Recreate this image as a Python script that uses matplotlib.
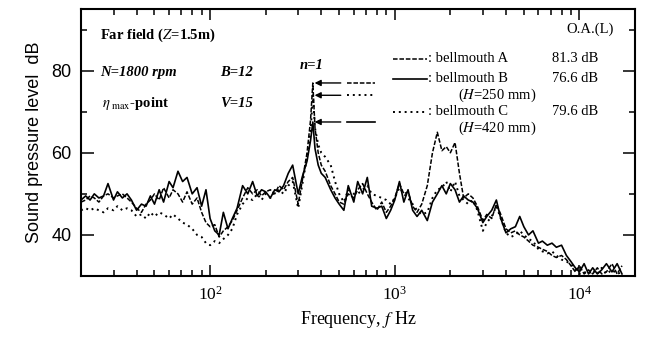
import matplotlib
matplotlib.use('Agg')
import matplotlib.pyplot as plt
from matplotlib.ticker import MultipleLocator, LogLocator, NullFormatter

plt.rcParams['font.family'] = 'Liberation Serif'
plt.rcParams['mathtext.fontset'] = 'stix'

# frequency grid, Hz
freqs = [20, 21.2, 22.4, 23.6, 25, 26.5, 28, 30, 31.5, 33.5,
         35.5, 37.5, 40, 42.5, 45, 47.5, 50, 53, 56, 60,
         63, 67, 71, 75, 80, 85, 90, 95, 100, 106,
         112, 118, 125, 132, 140, 150, 160, 170, 180, 190,
         200, 212, 224, 236, 250, 265, 280, 300, 315, 335,
         350, 360, 370, 385, 400, 420, 450, 475, 500, 530,
         560, 600, 630, 670, 710, 750, 800, 850, 900, 950,
         1000, 1060, 1120, 1180, 1250, 1320, 1400, 1500, 1600, 1700,
         1800, 1900, 2000, 2120, 2240, 2360, 2500, 2650, 2800, 3000,
         3150, 3350, 3550, 3750, 4000, 4250, 4500, 4750, 5000, 5300,
         5600, 6000, 6300, 6700, 7100, 7500, 8000, 8500, 9000, 9500,
         10000, 10600, 11200, 11800, 12500, 13200, 14000, 15000, 16000, 17000]

# bellmouth A (dashed)
spl_a = [48, 48.5, 49.5, 49, 48, 49.5, 50, 49, 49.5, 50,
         49, 48, 46.5, 45.5, 47.5, 48.5, 50, 48.5, 51.5, 49,
         51, 50, 48, 50.5, 47.5, 49, 45.5, 43, 42, 42.5,
         39.5, 41, 42, 43.5, 46, 49, 51.5, 50, 51, 49.5,
         50.5, 51, 50, 52, 51, 53, 54, 47.5, 53, 60,
         68, 77, 66, 60, 57, 55.5, 52, 50, 48, 47.5,
         50, 49, 51, 52.5, 50, 48, 46, 48, 45.5, 47,
         49, 52.5, 50, 50.5, 47, 45.5, 47.5, 52, 60, 65,
         60.5, 61.5, 60, 62.5, 55, 49, 50, 49, 47, 43.5,
         45, 44, 47.5, 45, 41.5, 40.5, 41, 40, 39.5, 38.5,
         37.5, 37, 36.5, 36, 35, 34.5, 35, 34, 32.5, 31,
         32.5, 30.5, 31.5, 30.5, 32, 30.5, 31, 33, 30.5, 32.5]

# bellmouth B (solid)
spl_b = [48.5, 49.5, 48.5, 50, 49, 49.5, 52.5, 48.5, 50.5, 49,
         50, 48.5, 46, 47.5, 47, 49.5, 47.5, 51, 48, 53,
         51.5, 55.5, 53, 54, 50, 51.5, 47, 51, 44, 41,
         40, 45.5, 41.5, 44, 46.5, 52, 50, 53, 49.5, 51,
         50.5, 49, 51, 50.5, 52, 55, 57, 50, 54, 58,
         63, 67.5, 61, 57, 55, 54, 51, 49, 47.5, 46,
         52, 48, 53, 50, 54, 47, 46.5, 47, 44, 46,
         48.5, 53, 48, 51, 46, 44.5, 46, 43.5, 48, 50,
         52, 50, 52.5, 51, 48, 49.5, 48.5, 48, 46.5, 43,
         44.5, 46, 48.5, 44, 40.5, 41.5, 42, 44.5, 42, 40,
         41, 38, 38.5, 37.5, 38, 37, 37.5, 35, 33.5, 32,
         31, 33, 30.5, 32, 30.5, 31.5, 33, 31, 33, 30.5]

# bellmouth C (dotted)
spl_c = [46, 46.5, 46, 46.5, 46, 45.5, 46.5, 46, 47, 46,
         46.5, 46, 44.5, 45, 44, 45.5, 44.5, 45.5, 45, 44,
         45, 44, 43, 42.5, 41.5, 40, 39.5, 38, 37.5, 38.5,
         38, 39, 40, 41.5, 45, 47.5, 49, 48.5, 50, 48.5,
         50, 49, 50.5, 51, 50, 52, 53, 46.5, 52, 59,
         65, 74, 66, 62, 60, 59, 57, 53, 50, 48,
         51, 50, 50, 51, 52, 50, 49.5, 49, 48.5, 47.5,
         49, 51.5, 50, 49, 47.5, 46, 45, 45.5, 49, 51,
         51.5, 53, 50.5, 53, 49.5, 48.5, 47.5, 48.5, 46, 41,
         43, 44.5, 47, 44, 40.5, 39.5, 40, 41, 40, 39,
         38.5, 36.5, 36, 35.5, 36, 35, 34, 33.5, 33, 31.5,
         30.5, 31, 30.5, 31.5, 30.5, 32, 30.5, 31.5, 30.5, 31]

names = ['bellmouth A', 'bellmouth B', 'bellmouth C']
overall = ['81.3 dB', '76.6 dB', '79.6 dB']
notes = [None, '($H$=250 mm)', '($H$=420 mm)']
styles = [(0, (3, 1.2)), '-', (0, (1, 2))]
widths = [1.1, 1.2, 1.4]
series = [spl_a, spl_b, spl_c]

fig = plt.figure(figsize=(6.47, 3.38), dpi=100)
ax = fig.add_axes([0.1252, 0.1834, 0.8563, 0.7899])

for s, ls, lw in zip(series, styles, widths):
    ax.plot(freqs, s, color='black', linestyle=ls, linewidth=lw)

ax.set_xscale('log')
ax.set_xlim(20, 20000)
ax.set_ylim(30, 95)

ax.yaxis.set_major_locator(MultipleLocator(20))
ax.yaxis.set_minor_locator(MultipleLocator(10))
ax.xaxis.set_major_locator(LogLocator(base=10, numticks=10))
ax.xaxis.set_minor_locator(LogLocator(base=10, subs=range(2, 10), numticks=20))
ax.xaxis.set_minor_formatter(NullFormatter())

ax.tick_params(which='both', direction='in', top=True, right=True, width=1.1)
ax.tick_params(axis='y', which='major', length=9, pad=7, labelsize=13)
ax.tick_params(axis='y', which='minor', length=4)
ax.tick_params(axis='x', which='major', length=8, pad=7, labelsize=12.5)
ax.tick_params(axis='x', which='minor', length=4)
for lab in ax.get_yticklabels():
    lab.set_fontfamily('Liberation Sans')
for sp in ax.spines.values():
    sp.set_linewidth(1.5)

ax.set_xlabel('Frequency, $f$ Hz', fontsize=13, labelpad=4)
ax.set_ylabel('Sound pressure level  dB', fontsize=13, family='Liberation Sans', labelpad=6)

# upper-left block
ax.text(0.034, 0.903, 'Far field ($Z$=1.5m)', transform=ax.transAxes,
        fontsize=10.5, weight='bold', va='center')
ax.text(0.034, 0.764, 'N=1800 rpm', transform=ax.transAxes,
        fontsize=10.5, weight='bold', style='italic', va='center')
ax.text(0.251, 0.764, 'B=12', transform=ax.transAxes,
        fontsize=10.5, weight='bold', style='italic', va='center')
ax.text(0.038, 0.648, r'$\eta_{\rm\ max}$-point', transform=ax.transAxes,
        fontsize=10.5, weight='bold', va='center')
ax.text(0.251, 0.648, 'V=15', transform=ax.transAxes,
        fontsize=10.5, weight='bold', style='italic', va='center')

# blade passing peak arrows
ax.text(0.417, 0.790, 'n=1', transform=ax.transAxes, fontsize=10.5,
        weight='bold', style='italic', ha='center', va='center')
ipk = freqs.index(360)
for s, ls, lw in zip(series, styles, widths):
    lvl = s[ipk]
    ax.annotate('', xy=(368, lvl), xytext=(510, lvl),
                arrowprops=dict(arrowstyle='-|>', color='black', lw=1.0,
                                mutation_scale=9, shrinkA=0, shrinkB=0))
    ax.plot([550, 780], [lvl, lvl], color='black', linestyle=ls, linewidth=lw)

# legend block
ax.text(0.919, 0.925, 'O.A.(L)', transform=ax.transAxes, fontsize=10.5,
        ha='center', va='center')
rows = [0.813, 0.738, 0.615]
for name, oa, note, ls, lw, yy in zip(names, overall, notes, styles, widths, rows):
    ax.plot([0.563, 0.625], [yy, yy], transform=ax.transAxes, color='black',
            linestyle=ls, linewidth=lw)
    ax.text(0.627, yy, ': ' + name, transform=ax.transAxes, fontsize=10.5, va='center')
    ax.text(0.851, yy, oa, transform=ax.transAxes, fontsize=10.5, va='center')
    if note:
        ax.text(0.680, yy - 0.062, note, transform=ax.transAxes, fontsize=10.5, va='center')

fig.savefig('out.png', dpi=100)
